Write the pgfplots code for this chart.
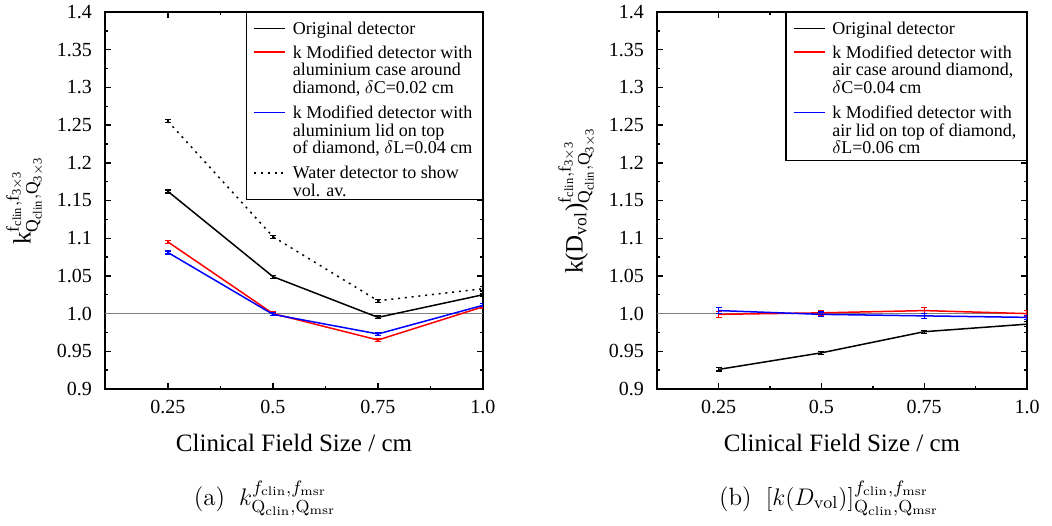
\documentclass[border=0pt]{standalone}
\usepackage{amsmath}
\usepackage{fontspec}
\usepackage{pgfplots}
\pgfplotsset{compat=1.18}
\newfontfamily\tnr{Liberation Serif}

% multi-line legend entry; optional argument trims the depth below the last line
\newcommand{\legtxt}[2][0pt]{\raisebox{0pt}[\height][\dimexpr\depth-#1\relax]{\begin{tabular}[t]{@{}l@{}}#2\end{tabular}}}

\pgfplotsset{
  fieldsize/.style={
    scale only axis,
    anchor=south west,
    xmin=0.1, xmax=1.0,
    ymin=0.9, ymax=1.4,
    xtick={0.25,0.5,0.75,1.0},
    xticklabels={\text{0.25},\text{0.5},\text{0.75},\text{1.0}},
    minor xtick={0.375,0.625,0.875},
    ytick={0.9,0.95,1.0,1.05,1.1,1.15,1.2,1.25,1.3,1.35,1.4},
    yticklabels={\text{0.9},\text{0.95},\text{1.0},\text{1.05},\text{1.1},\text{1.15},\text{1.2},\text{1.25},\text{1.3},\text{1.35},\text{1.4}},
    minor ytick={0.925,0.975,1.025,1.075,1.125,1.175,1.225,1.275,1.325,1.375},
    tick align=inside,
    major tick length=3pt,
    minor tick length=1.6pt,
    every tick/.style={black, line width=0.7pt},
    axis line style={line width=0.9pt},
    tick label style={font=\fontsize{10}{12}\tnr},
    yticklabel style={xshift=-3pt},
    xticklabel style={yshift=-2pt},
    label style={font=\fontsize{12.5}{14}\tnr},
    xlabel={Clinical Field Size / cm},
    xlabel style={yshift=-3.5pt},
    legend style={at={(1,1)}, anchor=north east, draw=black, line width=0.6pt,
      font=\fontsize{9}{8.6}\tnr, cells={anchor=base west},
      nodes={inner sep=1.5pt, text depth=}, row sep=0.6pt, column sep=2pt,
      inner xsep=3.5pt, inner ysep=1pt},
    legend image code/.code={\path (0pt,0pt); \draw[line width=0.7pt, #1] (0pt,3pt) -- (15.5pt,3pt);},
    every axis plot/.append style={line width=0.75pt, mark=none},
    error bars/error bar style={line width=0.6pt, solid},
    error bars/error mark=|,
    error bars/error mark options={mark size=1.5pt, line width=0.6pt, solid},
  }
}

\begin{document}
\begin{tikzpicture}
\useasboundingbox (0pt,0pt) rectangle (526pt,262.5pt);

% (a) correction factor
\begin{axis}[fieldsize, at={(52.5pt,68pt)}, width=189pt, height=188.5pt,
  ylabel={k$^{\text{f}_{\text{clin}},\text{f}_{\text{3$\times$3}}}_{\text{Q}_{\text{clin}},\text{Q}_{\text{3$\times$3}}}$}]
\addplot[gray, line width=0.6pt, forget plot] coordinates {(0.1,1.0) (1.0,1.0)};
\addplot[black, error bars/.cd, y dir=both, y explicit] coordinates {
  (0.25,1.162) +- (0,0.002)
  (0.5,1.049)  +- (0,0.002)
  (0.75,0.995) +- (0,0.002)
  (1.0,1.025)  +- (0,0.002)
};
\addlegendentry{\rule{0pt}{8.4pt}Original detector}
\addplot[red, error bars/.cd, y dir=both, y explicit] coordinates {
  (0.25,1.095) +- (0,0.002)
  (0.5,1.000)  +- (0,0.002)
  (0.75,0.965) +- (0,0.002)
  (1.0,1.009)  +- (0,0.002)
};
\addlegendentry{\legtxt{k Modified detector with\\aluminium case around\\diamond, $\delta$C=0.02 cm}}
\addplot[blue, error bars/.cd, y dir=both, y explicit] coordinates {
  (0.25,1.081) +- (0,0.002)
  (0.5,0.999)  +- (0,0.002)
  (0.75,0.973) +- (0,0.002)
  (1.0,1.011)  +- (0,0.002)
};
\addlegendentry{\legtxt{k Modified detector with\\aluminium lid on top\\of diamond, $\delta$L=0.04 cm}}
\addplot[black, dash pattern=on 1pt off 2.4pt, error bars/.cd, y dir=both, y explicit] coordinates {
  (0.25,1.255) +- (0,0.002)
  (0.5,1.102)  +- (0,0.002)
  (0.75,1.017) +- (0,0.002)
  (1.0,1.033)  +- (0,0.003)
};
\addlegendentry{\legtxt[3.5pt]{Water detector to show\\vol. av.}}
\end{axis}

% (b) volume averaging factor
\begin{axis}[fieldsize, at={(328.5pt,68pt)}, width=185pt, height=188.5pt,
  ylabel={k(D$_{\text{vol}}$)$^{\text{f}_{\text{clin}},\text{f}_{\text{3$\times$3}}}_{\text{Q}_{\text{clin}},\text{Q}_{\text{3$\times$3}}}$}]
\addplot[gray, line width=0.6pt, forget plot] coordinates {(0.1,1.0) (1.0,1.0)};
\addplot[black, error bars/.cd, y dir=both, y explicit] coordinates {
  (0.25,0.926) +- (0,0.002)
  (0.5,0.948)  +- (0,0.002)
  (0.75,0.976) +- (0,0.002)
  (1.0,0.986)  +- (0,0.003)
};
\addlegendentry{\rule{0pt}{8.4pt}Original detector}
\addplot[red, error bars/.cd, y dir=both, y explicit] coordinates {
  (0.25,0.999) +- (0,0.004)
  (0.5,1.001)  +- (0,0.003)
  (0.75,1.004) +- (0,0.004)
  (1.0,1.000)  +- (0,0.004)
};
\addlegendentry{\legtxt{k Modified detector with\\air case around diamond,\\$\delta$C=0.04 cm}}
\addplot[blue, error bars/.cd, y dir=both, y explicit] coordinates {
  (0.25,1.004) +- (0,0.004)
  (0.5,0.999)  +- (0,0.003)
  (0.75,0.997) +- (0,0.003)
  (1.0,0.995)  +- (0,0.003)
};
\addlegendentry{\legtxt[2pt]{k Modified detector with\\air lid on top of diamond,\\$\delta$L=0.06 cm}}
\end{axis}

% sub-figure captions
\node[anchor=base, font=\fontsize{12.5}{14}\selectfont] at (132.5pt,10pt)
  {(a)\hspace{7pt}$k^{f_{\mathrm{clin}},f_{\mathrm{msr}}}_{\mathrm{Q}_{\mathrm{clin}},\mathrm{Q}_{\mathrm{msr}}}$};
\node[anchor=base, font=\fontsize{12.5}{14}\selectfont] at (414.5pt,10pt)
  {(b)\hspace{7pt}$[k(D_{\mathrm{vol}})]^{f_{\mathrm{clin}},f_{\mathrm{msr}}}_{\mathrm{Q}_{\mathrm{clin}},\mathrm{Q}_{\mathrm{msr}}}$};
\end{tikzpicture}
\end{document}
